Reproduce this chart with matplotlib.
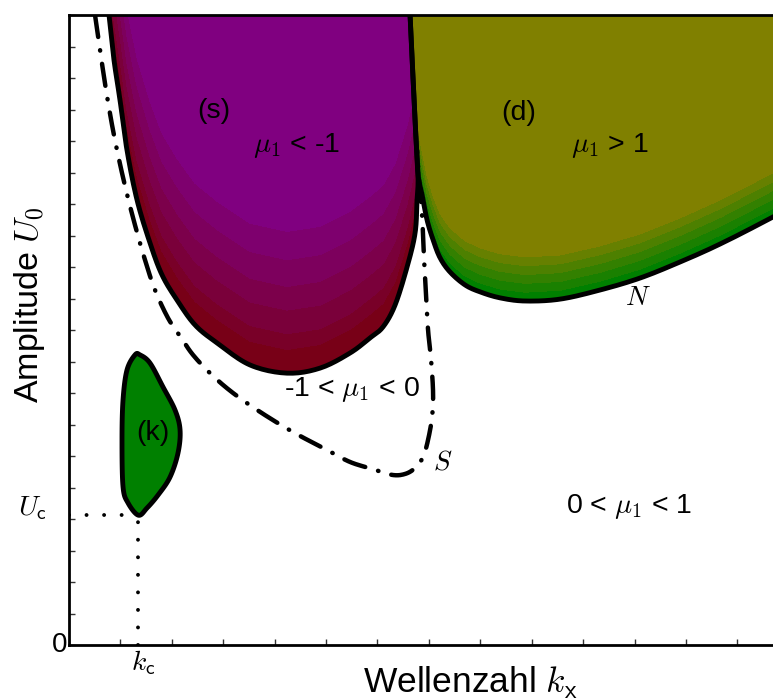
import numpy as np
import matplotlib
matplotlib.use('Agg')
from matplotlib import pyplot as plt
from matplotlib.patches import Polygon
from matplotlib.colors import to_rgb

plt.rcParams['font.family'] = ['Liberation Sans', 'DejaVu Sans']
plt.rcParams['mathtext.fontset'] = 'cm'

# kritischer Punkt
k_c = 1.35
U_c = 4.12

# Rand von (s), mu1 < -1: links oben -> Minimum -> rechts oben
s_x = [0.778, 0.875, 0.992, 1.128, 1.323, 1.576, 1.809, 2.101, 2.451, 2.879, 3.521, 4.241,
       4.883, 5.467, 5.856, 6.109, 6.342, 6.576, 6.732, 6.770, 6.790, 6.751, 6.693, 6.634]
s_y = [20.0, 18.57, 17.30, 15.71, 14.13, 12.76, 11.75, 10.95, 10.16, 9.59, 8.89, 8.63,
       8.79, 9.27, 9.75, 10.10, 10.79, 12.0, 13.08, 14.13, 14.83, 16.03, 17.94, 20.0]

# Rand von (d), mu1 > 1: Kurve N
d_x = [6.634, 6.693, 6.751, 6.790, 6.868, 6.965, 7.082, 7.218, 7.412, 7.704, 7.996, 8.385,
       8.872, 9.553, 10.331, 11.109, 11.887, 12.665, 13.696, 15.78]
d_y = [20.0, 17.94, 16.03, 14.92, 14.29, 13.49, 12.86, 12.29, 11.84, 11.43, 11.21, 11.02,
       10.92, 10.98, 11.27, 11.65, 12.16, 12.73, 13.59, 15.40]

# Kurve S (mu1 = 0)
S_x = [0.506, 0.603, 0.720, 0.837, 0.953, 1.109, 1.284, 1.479, 1.673, 1.926, 2.160, 2.412,
       2.782, 3.191, 3.716, 4.358, 5.019, 5.467, 5.895, 6.284, 6.537, 6.732, 6.887, 6.984,
       7.062, 7.082, 7.043, 6.984, 6.946, 6.907, 6.868, 6.809, 6.770]
S_y = [20.0, 18.89, 17.62, 16.51, 15.56, 14.44, 13.33, 12.22, 11.27, 10.38, 9.81, 9.21,
       8.57, 8.0, 7.40, 6.76, 6.19, 5.81, 5.59, 5.40, 5.43, 5.62, 5.97, 6.51,
       7.24, 8.0, 9.05, 10.0, 11.11, 12.22, 13.65, 14.76, 15.71]

# Insel (k)
k_x = [1.284, 1.128, 1.051, 1.031, 1.051, 1.148, 1.35, 1.518, 1.732, 1.965, 2.121, 2.160,
       2.062, 1.829, 1.576, 1.381]
k_y = [9.21, 8.73, 7.78, 6.51, 5.02, 4.51, 4.12, 4.35, 4.76, 5.33, 6.10, 6.83,
       7.46, 8.19, 8.95, 9.21]

# Abstufungen (Hoehe ueber dem Rand)
s_levels = [0.75, 1.25, 2.0, 2.75, 3.6, 4.5]
d_levels = [0.28, 0.56, 0.84, 1.12, 1.4]

x_max = 15.6
y_max = 20.0


def smooth(xs, ys, n=12, closed=False):
    P = np.column_stack([xs, ys])
    if closed:
        ext = np.vstack([P[-1], P, P[0], P[1]])
    else:
        ext = np.vstack([P[0], P, P[-1]])
    t = np.linspace(0, 1, n, endpoint=False)[:, None]
    out = []
    for i in range(1, len(ext) - 2):
        p0, p1, p2, p3 = ext[i - 1], ext[i], ext[i + 1], ext[i + 2]
        out.append(0.5 * (2 * p1 + (p2 - p0) * t + (2 * p0 - 5 * p1 + 4 * p2 - p3) * t ** 2
                          + (3 * p1 - p0 - 3 * p2 + p3) * t ** 3))
    out.append(ext[-2][None] if not closed else ext[1][None])
    out = np.vstack(out)
    return out[:, 0], out[:, 1]


def blend(c0, c1, n):
    c0, c1 = np.array(to_rgb(c0)), np.array(to_rgb(c1))
    return [tuple(c0 + (c1 - c0) * t) for t in np.linspace(0, 1, n)]


def banded_region(ax, bx, by, levels, c_edge, c_inner, X, Y):
    # Feld = Hoehe ueber dem unteren Rand, auf die Region beschnitten
    i = int(np.argmax(bx))
    field = Y - np.interp(X, bx[:i + 1], by[:i + 1])
    cols = blend(c_edge, c_inner, len(levels) + 1)
    cs = ax.contourf(X, Y, field, levels=[-100] + levels + [100], colors=cols)
    sx, sy = smooth(bx, by)
    poly = Polygon(np.column_stack([np.r_[sx, sx[-1], sx[0]], np.r_[sy, y_max + 1, y_max + 1]]),
                   closed=True, facecolor='none', edgecolor='none')
    ax.add_patch(poly)
    cs.set_clip_path(poly)
    ax.plot(sx, sy, color='black', lw=3.5, solid_joinstyle='round', solid_capstyle='round', zorder=3)


fig = plt.figure(figsize=(7.73, 7.0), dpi=100)
ax = fig.add_axes([69 / 773, 55 / 700, 802 / 773, 630 / 700])
ax.set_xlim(0, x_max)
ax.set_ylim(0, y_max)

X, Y = np.meshgrid(np.linspace(0, x_max, 1000), np.linspace(0, y_max + 1, 900))
banded_region(ax, s_x, s_y, s_levels, (0.47, 0.0, 0.09), (0.5, 0.0, 0.5), X, Y)
banded_region(ax, d_x, d_y, d_levels, (0.0, 0.5, 0.0), (0.5, 0.5, 0.0), X, Y)

kx, ky = smooth(k_x, k_y, closed=True)
ax.fill(kx, ky, facecolor='green', edgecolor='black', lw=3.5, joinstyle='round', zorder=3)

sx, sy = smooth(S_x, S_y)
ax.plot(sx, sy, color='black', lw=3.2, linestyle=(0, (5, 3, 0.1, 3)),
        dash_capstyle='round', zorder=4)

ax.plot([0, k_c], [U_c, U_c], color='black', lw=2.8, linestyle=(0, (0.01, 4.5)),
        dash_capstyle='round', zorder=4)
ax.plot([k_c, k_c], [0, U_c], color='black', lw=2.8, linestyle=(0, (0.01, 4.5)),
        dash_capstyle='round', zorder=4)

fs = 20.5
ax.text(2.82, 16.95, '(s)', fontsize=fs, ha='center', va='center')
ax.text(4.42, 15.87, r'$\mu_\mathsf{1}$ < -1', fontsize=fs, ha='center', va='center')
ax.text(8.74, 16.89, '(d)', fontsize=fs, ha='center', va='center')
ax.text(10.53, 15.87, r'$\mu_\mathsf{1}$ > 1', fontsize=fs, ha='center', va='center')
ax.text(5.51, 8.10, r'-1 < $\mu_\mathsf{1}$ < 0', fontsize=fs, ha='center', va='center')
ax.text(10.89, 4.41, r'0 < $\mu_\mathsf{1}$ < 1', fontsize=fs, ha='center', va='center')
ax.text(1.63, 6.73, '(k)', fontsize=fs, ha='center', va='center', zorder=5)
ax.text(11.07, 11.02, r'$N$', fontsize=19.5, ha='center', va='center')
ax.text(7.26, 5.78, r'$S$', fontsize=19.5, ha='center', va='center')

# Achsenbeschriftung an den besonderen Stellen
ax.text(-0.04, 0, '0', fontsize=20, ha='right', va='center', clip_on=False)
ax.text(-0.43, U_c, r'$U_\mathsf{c}$', fontsize=20, ha='right', va='baseline', clip_on=False)
ax.text(1.21, -0.79, r'$k_\mathsf{c}$', fontsize=20, ha='left', va='baseline', clip_on=False)

ax.set_xticks(np.arange(0, 16))
ax.set_yticks(np.arange(0, 21))
ax.set_xticklabels([])
ax.set_yticklabels([])
ax.tick_params(direction='in', length=4, width=1, color='#333333')

for side in ['left', 'bottom', 'top']:
    ax.spines[side].set_linewidth(2)
ax.spines['right'].set_visible(False)

ax.set_xlabel(r'Wellenzahl $k_\mathsf{x}$', fontsize=25.5)
ax.xaxis.set_label_coords(0.5, -0.031)
ax.set_ylabel(r'Amplitude $U_0$', fontsize=24.5)
ax.yaxis.set_label_coords(-0.028, 0.54)

plt.savefig('out.png', dpi=100)
